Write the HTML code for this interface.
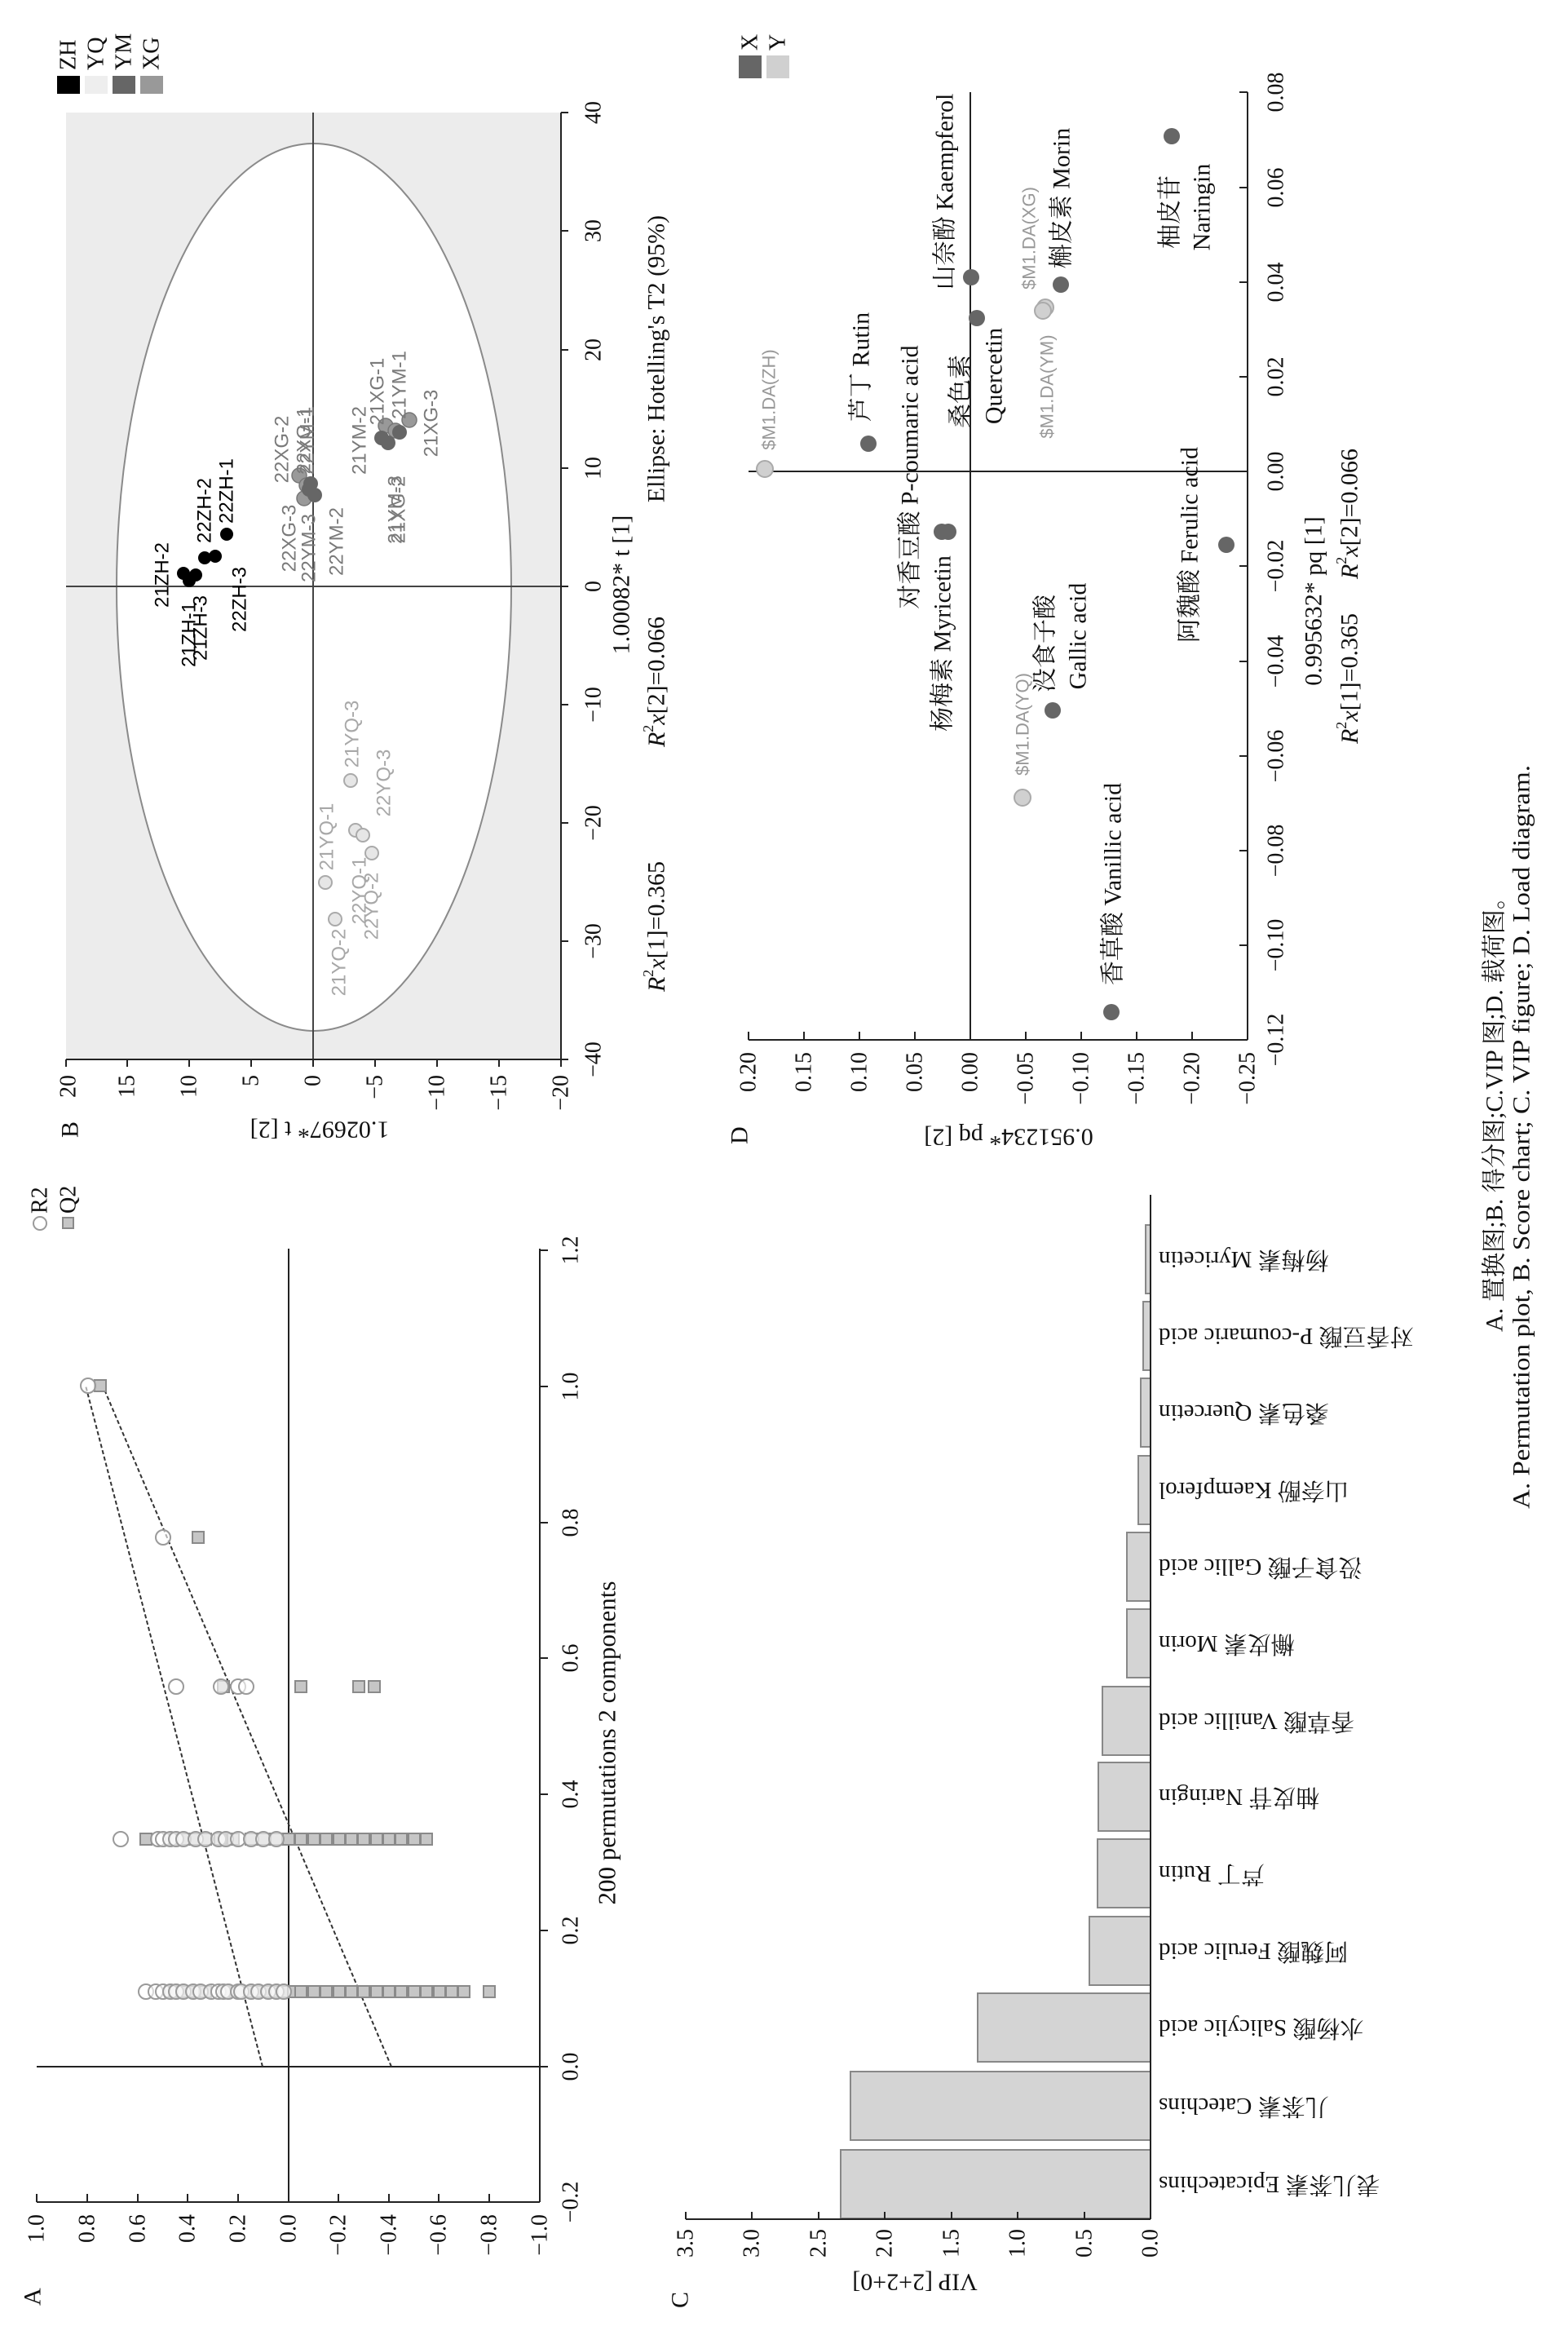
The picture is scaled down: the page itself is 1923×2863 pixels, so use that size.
<!DOCTYPE html>
<html><head><meta charset="utf-8"><style>
html,body{margin:0;padding:0;background:#fff;}
svg{display:block;}
.s{font-family:"Liberation Serif","Noto Serif CJK SC","Noto Sans CJK SC",serif;fill:#111;}
.ss{font-family:"Liberation Sans","Noto Sans CJK SC",sans-serif;}
</style></head><body>
<svg width="1923" height="2863" viewBox="0 0 1923 2863" xmlns="http://www.w3.org/2000/svg">
<rect width="1923" height="2863" fill="#fff"/>

<!-- ================= PANEL A ================= -->
<g stroke="#222" stroke-width="2" fill="none">
<line x1="45" y1="2700" x2="662" y2="2700"/>
<line x1="662" y1="1531" x2="662" y2="2700"/>
<line x1="354" y1="1531" x2="354" y2="2700"/>
<line x1="45" y1="2534" x2="662" y2="2534"/>
</g>
<g stroke="#222" stroke-width="2">
<line x1="45" y1="2690" x2="45" y2="2700"/><line x1="107" y1="2690" x2="107" y2="2700"/><line x1="169" y1="2690" x2="169" y2="2700"/><line x1="230" y1="2690" x2="230" y2="2700"/><line x1="292" y1="2690" x2="292" y2="2700"/><line x1="415" y1="2690" x2="415" y2="2700"/><line x1="477" y1="2690" x2="477" y2="2700"/><line x1="538" y1="2690" x2="538" y2="2700"/><line x1="600" y1="2690" x2="600" y2="2700"/>
<line x1="662" y1="1533" x2="672" y2="1533"/><line x1="662" y1="1700" x2="672" y2="1700"/><line x1="662" y1="1867" x2="672" y2="1867"/><line x1="662" y1="2033" x2="672" y2="2033"/><line x1="662" y1="2200" x2="672" y2="2200"/><line x1="662" y1="2367" x2="672" y2="2367"/><line x1="662" y1="2534" x2="672" y2="2534"/>
</g>
<g class="s" font-size="28" text-anchor="end" dominant-baseline="central">
<text transform="translate(45,2715) rotate(-90)">1.0</text>
<text transform="translate(107,2715) rotate(-90)">0.8</text>
<text transform="translate(169,2715) rotate(-90)">0.6</text>
<text transform="translate(230,2715) rotate(-90)">0.4</text>
<text transform="translate(292,2715) rotate(-90)">0.2</text>
<text transform="translate(354,2715) rotate(-90)">0.0</text>
<text transform="translate(415,2715) rotate(-90)">−0.2</text>
<text transform="translate(477,2715) rotate(-90)">−0.4</text>
<text transform="translate(538,2715) rotate(-90)">−0.6</text>
<text transform="translate(600,2715) rotate(-90)">−0.8</text>
<text transform="translate(662,2715) rotate(-90)">−1.0</text>
</g>
<g class="s" font-size="28" text-anchor="middle" dominant-baseline="central">
<text transform="translate(700,2700) rotate(-90)">−0.2</text>
<text transform="translate(700,2534) rotate(-90)">0.0</text>
<text transform="translate(700,2367) rotate(-90)">0.2</text>
<text transform="translate(700,2200) rotate(-90)">0.4</text>
<text transform="translate(700,2033) rotate(-90)">0.6</text>
<text transform="translate(700,1867) rotate(-90)">0.8</text>
<text transform="translate(700,1700) rotate(-90)">1.0</text>
<text transform="translate(700,1533) rotate(-90)">1.2</text>
<text transform="translate(744,2137) rotate(-90)" font-size="31">200 permutations 2 components</text>
</g>
<g stroke="#333" stroke-width="2" stroke-dasharray="5,3" fill="none">
<line x1="322" y1="2534" x2="105" y2="1699"/>
<line x1="480" y1="2534" x2="126" y2="1699"/>
</g>
<g fill="#c6c6c6" stroke="#8a8a8a" stroke-width="2">
<rect x="116" y="1692" width="14" height="14"/>
<rect x="236" y="1878" width="14" height="14"/>
<rect x="267" y="2061" width="14" height="14"/><rect x="362" y="2061" width="14" height="14"/><rect x="433" y="2061" width="14" height="14"/><rect x="452" y="2061" width="14" height="14"/>
<rect x="172" y="2248" width="14" height="14"/><rect x="202" y="2248" width="14" height="14"/><rect x="218" y="2248" width="14" height="14"/><rect x="233" y="2248" width="14" height="14"/><rect x="245" y="2248" width="14" height="14"/><rect x="263" y="2248" width="14" height="14"/><rect x="279" y="2248" width="14" height="14"/><rect x="301" y="2248" width="14" height="14"/><rect x="316" y="2248" width="14" height="14"/><rect x="332" y="2248" width="14" height="14"/><rect x="347" y="2248" width="14" height="14"/><rect x="362" y="2248" width="14" height="14"/><rect x="378" y="2248" width="14" height="14"/><rect x="393" y="2248" width="14" height="14"/><rect x="409" y="2248" width="14" height="14"/><rect x="424" y="2248" width="14" height="14"/><rect x="439" y="2248" width="14" height="14"/><rect x="455" y="2248" width="14" height="14"/><rect x="470" y="2248" width="14" height="14"/><rect x="485" y="2248" width="14" height="14"/><rect x="501" y="2248" width="14" height="14"/><rect x="516" y="2248" width="14" height="14"/>
<rect x="202" y="2435" width="14" height="14"/><rect x="218" y="2435" width="14" height="14"/><rect x="230" y="2435" width="14" height="14"/><rect x="245" y="2435" width="14" height="14"/><rect x="270" y="2435" width="14" height="14"/><rect x="285" y="2435" width="14" height="14"/><rect x="301" y="2435" width="14" height="14"/><rect x="310" y="2435" width="14" height="14"/><rect x="322" y="2435" width="14" height="14"/><rect x="332" y="2435" width="14" height="14"/><rect x="341" y="2435" width="14" height="14"/><rect x="353" y="2435" width="14" height="14"/><rect x="362" y="2435" width="14" height="14"/><rect x="378" y="2435" width="14" height="14"/><rect x="393" y="2435" width="14" height="14"/><rect x="409" y="2435" width="14" height="14"/><rect x="424" y="2435" width="14" height="14"/><rect x="439" y="2435" width="14" height="14"/><rect x="455" y="2435" width="14" height="14"/><rect x="470" y="2435" width="14" height="14"/><rect x="485" y="2435" width="14" height="14"/><rect x="501" y="2435" width="14" height="14"/><rect x="516" y="2435" width="14" height="14"/><rect x="532" y="2435" width="14" height="14"/><rect x="547" y="2435" width="14" height="14"/><rect x="562" y="2435" width="14" height="14"/><rect x="593" y="2435" width="14" height="14"/>
</g>
<g fill="#fff" fill-opacity="0.6" stroke="#9a9a9a" stroke-width="2">
<circle cx="108" cy="1699" r="9"/>
<circle cx="200" cy="1885" r="9"/>
<circle cx="216" cy="2068" r="9"/><circle cx="271" cy="2068" r="9"/><circle cx="292" cy="2068" r="9"/><circle cx="302" cy="2068" r="9"/>
<circle cx="148" cy="2255" r="9"/><circle cx="194" cy="2255" r="9"/><circle cx="200" cy="2255" r="9"/><circle cx="209" cy="2255" r="9"/><circle cx="216" cy="2255" r="9"/><circle cx="225" cy="2255" r="9"/><circle cx="240" cy="2255" r="9"/><circle cx="252" cy="2255" r="9"/><circle cx="268" cy="2255" r="9"/><circle cx="277" cy="2255" r="9"/><circle cx="292" cy="2255" r="9"/><circle cx="308" cy="2255" r="9"/><circle cx="323" cy="2255" r="9"/><circle cx="339" cy="2255" r="9"/>
<circle cx="179" cy="2442" r="9"/><circle cx="191" cy="2442" r="9"/><circle cx="200" cy="2442" r="9"/><circle cx="209" cy="2442" r="9"/><circle cx="216" cy="2442" r="9"/><circle cx="225" cy="2442" r="9"/><circle cx="237" cy="2442" r="9"/><circle cx="246" cy="2442" r="9"/><circle cx="259" cy="2442" r="9"/><circle cx="268" cy="2442" r="9"/><circle cx="274" cy="2442" r="9"/><circle cx="280" cy="2442" r="9"/><circle cx="292" cy="2442" r="9"/><circle cx="296" cy="2442" r="9"/><circle cx="308" cy="2442" r="9"/><circle cx="317" cy="2442" r="9"/><circle cx="329" cy="2442" r="9"/><circle cx="339" cy="2442" r="9"/><circle cx="348" cy="2442" r="9"/>
</g>
<circle cx="49" cy="1500" r="8" fill="#fff" stroke="#9a9a9a" stroke-width="2"/>
<rect x="77" y="1493" width="13" height="13" fill="#c6c6c6" stroke="#8a8a8a" stroke-width="2"/>
<g class="s" font-size="28" dominant-baseline="central">
<text transform="translate(49,1488) rotate(-90)">R2</text>
<text transform="translate(84,1488) rotate(-90)">Q2</text>
<text transform="translate(40,2827) rotate(-90)" font-size="30">A</text>
<text transform="translate(86,1395) rotate(-90)" font-size="30">B</text>
<text transform="translate(834,2830) rotate(-90)" font-size="30">C</text>
<text transform="translate(907,1403) rotate(-90)" font-size="30">D</text>
</g>

<!-- ================= PANEL B ================= -->
<rect x="81" y="138" width="607" height="1161" fill="#ececec"/>
<ellipse cx="385" cy="720" rx="242" ry="544" fill="#fff" stroke="#8a8a8a" stroke-width="2"/>
<g stroke="#444" stroke-width="2" fill="none">
<line x1="384" y1="138" x2="384" y2="1299"/>
<line x1="81" y1="719" x2="688" y2="719"/>
</g>
<g stroke="#222" stroke-width="2" fill="none">
<line x1="81" y1="1299" x2="688" y2="1299"/>
<line x1="688" y1="138" x2="688" y2="1299"/>
<line x1="81" y1="1299" x2="81" y2="1308"/><line x1="156" y1="1299" x2="156" y2="1308"/><line x1="232" y1="1299" x2="232" y2="1308"/><line x1="308" y1="1299" x2="308" y2="1308"/><line x1="384" y1="1299" x2="384" y2="1308"/><line x1="460" y1="1299" x2="460" y2="1308"/><line x1="536" y1="1299" x2="536" y2="1308"/><line x1="612" y1="1299" x2="612" y2="1308"/><line x1="688" y1="1299" x2="688" y2="1308"/>
<line x1="688" y1="138" x2="697" y2="138"/><line x1="688" y1="283" x2="697" y2="283"/><line x1="688" y1="429" x2="697" y2="429"/><line x1="688" y1="574" x2="697" y2="574"/><line x1="688" y1="719" x2="697" y2="719"/><line x1="688" y1="864" x2="697" y2="864"/><line x1="688" y1="1009" x2="697" y2="1009"/><line x1="688" y1="1154" x2="697" y2="1154"/><line x1="688" y1="1299" x2="697" y2="1299"/>
</g>
<g class="s" font-size="28" text-anchor="end" dominant-baseline="central">
<text transform="translate(84,1318) rotate(-90)">20</text>
<text transform="translate(156,1318) rotate(-90)">15</text>
<text transform="translate(232,1318) rotate(-90)">10</text>
<text transform="translate(308,1318) rotate(-90)">5</text>
<text transform="translate(384,1318) rotate(-90)">0</text>
<text transform="translate(460,1318) rotate(-90)">−5</text>
<text transform="translate(536,1318) rotate(-90)">−10</text>
<text transform="translate(612,1318) rotate(-90)">−15</text>
<text transform="translate(688,1318) rotate(-90)">−20</text>
</g>
<g class="s" font-size="28" text-anchor="middle" dominant-baseline="central">
<text transform="translate(728,138) rotate(-90)">40</text>
<text transform="translate(728,283) rotate(-90)">30</text>
<text transform="translate(728,429) rotate(-90)">20</text>
<text transform="translate(728,574) rotate(-90)">10</text>
<text transform="translate(728,719) rotate(-90)">0</text>
<text transform="translate(728,864) rotate(-90)">−10</text>
<text transform="translate(728,1009) rotate(-90)">−20</text>
<text transform="translate(728,1154) rotate(-90)">−30</text>
<text transform="translate(728,1299) rotate(-90)">−40</text>
<text transform="translate(762,717) rotate(-90)" font-size="30">1.00082* t [1]</text>
<text transform="translate(805,1136) rotate(-90)" font-size="30"><tspan font-style="italic">R</tspan><tspan font-size="18" dy="-10">2</tspan><tspan font-style="italic" dy="10">x</tspan>[1]=0.365</text>
<text transform="translate(805,836) rotate(-90)" font-size="30"><tspan font-style="italic">R</tspan><tspan font-size="18" dy="-10">2</tspan><tspan font-style="italic" dy="10">x</tspan>[2]=0.066</text>
<text transform="translate(805,440) rotate(-90)" font-size="30">Ellipse: Hotelling's T2 (95%)</text>
<text transform="translate(392,1385) rotate(180)" font-size="30">1.02697* t [2]</text>
</g>
<rect x="70" y="93" width="28" height="22" fill="#000"/>
<rect x="104" y="93" width="28" height="22" fill="#eeeeee"/>
<rect x="138" y="93" width="28" height="22" fill="#666"/>
<rect x="172" y="93" width="28" height="22" fill="#999"/>
<g class="s" font-size="28" dominant-baseline="central">
<text transform="translate(84,86) rotate(-90)">ZH</text>
<text transform="translate(118,86) rotate(-90)">YQ</text>
<text transform="translate(152,86) rotate(-90)">YM</text>
<text transform="translate(186,86) rotate(-90)">XG</text>
</g>
<g fill="#000">
<circle cx="225" cy="703" r="8"/><circle cx="232" cy="712" r="8"/><circle cx="240" cy="705" r="8"/><circle cx="251" cy="684" r="8"/><circle cx="264" cy="682" r="8"/><circle cx="278" cy="655" r="8"/>
</g>
<g fill="#e6e6e6" stroke="#aaa" stroke-width="2">
<circle cx="430" cy="957" r="8"/><circle cx="436" cy="1018" r="8"/><circle cx="445" cy="1024" r="8"/><circle cx="456" cy="1046" r="8"/><circle cx="399" cy="1082" r="8"/><circle cx="411" cy="1127" r="8"/>
</g>
<g fill="#999" stroke="#777" stroke-width="1.5">
<circle cx="367" cy="583" r="9"/><circle cx="376" cy="595" r="9"/><circle cx="373" cy="611" r="9"/>
<circle cx="473" cy="522" r="9"/><circle cx="485" cy="528" r="9"/><circle cx="502" cy="515" r="9"/>
</g>
<g fill="#666">
<circle cx="381" cy="593" r="9"/><circle cx="386" cy="607" r="9"/><circle cx="379" cy="600" r="9"/>
<circle cx="468" cy="537" r="9"/><circle cx="476" cy="543" r="9"/><circle cx="490" cy="530" r="9"/>
</g>
<g class="ss" font-size="24" text-anchor="middle" dominant-baseline="central" fill="#000">
<text transform="translate(199,705) rotate(-90)">21ZH-2</text>
<text transform="translate(232,778) rotate(-90)">21ZH-1</text>
<text transform="translate(246,770) rotate(-90)">21ZH-3</text>
<text transform="translate(251,626) rotate(-90)">22ZH-2</text>
<text transform="translate(278,602) rotate(-90)">22ZH-1</text>
<text transform="translate(294,735) rotate(-90)">22ZH-3</text>
</g>
<g class="ss" font-size="24" text-anchor="middle" dominant-baseline="central" fill="#a8a8a8">
<text transform="translate(432,900) rotate(-90)">21YQ-3</text>
<text transform="translate(471,960) rotate(-90)">22YQ-3</text>
<text transform="translate(401,1026) rotate(-90)">21YQ-1</text>
<text transform="translate(441,1092) rotate(-90)">22YQ-1</text>
<text transform="translate(456,1111) rotate(-90)">22YQ-2</text>
<text transform="translate(416,1180) rotate(-90)">21YQ-2</text>
</g>
<g class="ss" font-size="24" text-anchor="middle" dominant-baseline="central" fill="#7a7a7a">
<text transform="translate(346,551) rotate(-90)">22XG-2</text>
<text transform="translate(373,540) rotate(-90)">22XG-1</text>
<text transform="translate(377,540) rotate(-90)">22YM-1</text>
<text transform="translate(355,660) rotate(-90)">22XG-3</text>
<text transform="translate(379,672) rotate(-90)">22YM-3</text>
<text transform="translate(413,664) rotate(-90)">22YM-2</text>
<text transform="translate(441,540) rotate(-90)">21YM-2</text>
<text transform="translate(463,480) rotate(-90)">21XG-1</text>
<text transform="translate(490,472) rotate(-90)">21YM-1</text>
<text transform="translate(529,519) rotate(-90)">21XG-3</text>
<text transform="translate(485,625) rotate(-90)">21YM-3</text>
<text transform="translate(489,625) rotate(-90)">21XG-2</text>
</g>

<!-- ================= PANEL D ================= -->
<g stroke="#222" stroke-width="2" fill="none">
<line x1="918" y1="1275" x2="1530" y2="1275"/>
<line x1="1530" y1="113" x2="1530" y2="1275"/>
<line x1="1190" y1="113" x2="1190" y2="1275"/>
<line x1="918" y1="578" x2="1530" y2="578"/>
<line x1="918" y1="1265" x2="918" y2="1275"/><line x1="986" y1="1265" x2="986" y2="1275"/><line x1="1054" y1="1265" x2="1054" y2="1275"/><line x1="1122" y1="1265" x2="1122" y2="1275"/><line x1="1190" y1="1265" x2="1190" y2="1275"/><line x1="1258" y1="1265" x2="1258" y2="1275"/><line x1="1326" y1="1265" x2="1326" y2="1275"/><line x1="1394" y1="1265" x2="1394" y2="1275"/><line x1="1462" y1="1265" x2="1462" y2="1275"/><line x1="1530" y1="1265" x2="1530" y2="1275"/>
<line x1="1520" y1="113" x2="1530" y2="113"/><line x1="1520" y1="230" x2="1530" y2="230"/><line x1="1520" y1="346" x2="1530" y2="346"/><line x1="1520" y1="462" x2="1530" y2="462"/><line x1="1520" y1="578" x2="1530" y2="578"/><line x1="1520" y1="694" x2="1530" y2="694"/><line x1="1520" y1="811" x2="1530" y2="811"/><line x1="1520" y1="927" x2="1530" y2="927"/><line x1="1520" y1="1043" x2="1530" y2="1043"/><line x1="1520" y1="1159" x2="1530" y2="1159"/><line x1="1520" y1="1275" x2="1530" y2="1275"/>
</g>
<g class="s" font-size="28" text-anchor="end" dominant-baseline="central">
<text transform="translate(918,1290) rotate(-90)">0.20</text>
<text transform="translate(986,1290) rotate(-90)">0.15</text>
<text transform="translate(1054,1290) rotate(-90)">0.10</text>
<text transform="translate(1122,1290) rotate(-90)">0.05</text>
<text transform="translate(1190,1290) rotate(-90)">0.00</text>
<text transform="translate(1258,1290) rotate(-90)">−0.05</text>
<text transform="translate(1326,1290) rotate(-90)">−0.10</text>
<text transform="translate(1394,1290) rotate(-90)">−0.15</text>
<text transform="translate(1462,1290) rotate(-90)">−0.20</text>
<text transform="translate(1530,1290) rotate(-90)">−0.25</text>
</g>
<g class="s" font-size="28" text-anchor="middle" dominant-baseline="central">
<text transform="translate(1565,113) rotate(-90)">0.08</text>
<text transform="translate(1565,230) rotate(-90)">0.06</text>
<text transform="translate(1565,346) rotate(-90)">0.04</text>
<text transform="translate(1565,462) rotate(-90)">0.02</text>
<text transform="translate(1565,578) rotate(-90)">0.00</text>
<text transform="translate(1565,694) rotate(-90)">−0.02</text>
<text transform="translate(1565,811) rotate(-90)">−0.04</text>
<text transform="translate(1565,927) rotate(-90)">−0.06</text>
<text transform="translate(1565,1043) rotate(-90)">−0.08</text>
<text transform="translate(1565,1159) rotate(-90)">−0.10</text>
<text transform="translate(1565,1275) rotate(-90)">−0.12</text>
<text transform="translate(1611,737) rotate(-90)" font-size="30">0.995632* pq [1]</text>
<text transform="translate(1655,832) rotate(-90)" font-size="30"><tspan font-style="italic">R</tspan><tspan font-size="18" dy="-10">2</tspan><tspan font-style="italic" dy="10">x</tspan>[1]=0.365</text>
<text transform="translate(1655,630) rotate(-90)" font-size="30"><tspan font-style="italic">R</tspan><tspan font-size="18" dy="-10">2</tspan><tspan font-style="italic" dy="10">x</tspan>[2]=0.066</text>
<text transform="translate(1237,1394) rotate(180)" font-size="30">0.951234* pq [2]</text>
</g>
<rect x="906" y="68" width="28" height="28" fill="#666"/>
<rect x="940" y="68" width="28" height="28" fill="#d0d0d0"/>
<g class="s" font-size="28" dominant-baseline="central">
<text transform="translate(920,62) rotate(-90)">X</text>
<text transform="translate(954,62) rotate(-90)">Y</text>
</g>
<g fill="#d0d0d0" stroke="#aaa" stroke-width="2">
<circle cx="938" cy="575" r="10"/>
<circle cx="1282" cy="377" r="10"/>
<circle cx="1279" cy="381" r="10"/>
<circle cx="1254" cy="978" r="10"/>
</g>
<g fill="#666">
<circle cx="1065" cy="544" r="10"/>
<circle cx="1155" cy="652" r="10"/><circle cx="1163" cy="652" r="10"/>
<circle cx="1191" cy="340" r="10"/>
<circle cx="1198" cy="390" r="10"/>
<circle cx="1301" cy="349" r="10"/>
<circle cx="1437" cy="167" r="10"/>
<circle cx="1504" cy="668" r="10"/>
<circle cx="1291" cy="871" r="10"/>
<circle cx="1363" cy="1241" r="10"/>
</g>
<g class="ss" font-size="22" text-anchor="middle" dominant-baseline="central" fill="#999">
<text transform="translate(943,490) rotate(-90)">$M1.DA(ZH)</text>
<text transform="translate(1262,292) rotate(-90)">$M1.DA(XG)</text>
<text transform="translate(1284,474) rotate(-90)">$M1.DA(YM)</text>
<text transform="translate(1254,888) rotate(-90)">$M1.DA(YQ)</text>
</g>
<g class="s" font-size="30" text-anchor="middle" dominant-baseline="central">
<text transform="translate(1056,450) rotate(-90)">芦丁 Rutin</text>
<text transform="translate(1116,585) rotate(-90)">对香豆酸 P-coumaric acid</text>
<text transform="translate(1156,789) rotate(-90)">杨梅素 Myricetin</text>
<text transform="translate(1159,235) rotate(-90)">山奈酚 Kaempferol</text>
<text transform="translate(1178,480) rotate(-90)">桑色素</text>
<text transform="translate(1219,461) rotate(-90)">Quercetin</text>
<text transform="translate(1302,243) rotate(-90)">槲皮素 Morin</text>
<text transform="translate(1435,260) rotate(-90)">柚皮苷</text>
<text transform="translate(1474,254) rotate(-90)">Naringin</text>
<text transform="translate(1459,668) rotate(-90)">阿魏酸 Ferulic acid</text>
<text transform="translate(1282,789) rotate(-90)">没食子酸</text>
<text transform="translate(1322,780) rotate(-90)">Gallic acid</text>
<text transform="translate(1365,1084) rotate(-90)">香草酸 Vanillic acid</text>
</g>

<!-- ================= PANEL C ================= -->
<g fill="#d4d4d4" stroke="#888" stroke-width="2">
<rect x="1031" y="2636" width="380" height="84"/>
<rect x="1043" y="2540" width="368" height="84"/>
<rect x="1199" y="2444" width="212" height="84"/>
<rect x="1336" y="2350" width="75" height="84"/>
<rect x="1346" y="2255" width="65" height="84"/>
<rect x="1347" y="2161" width="64" height="84"/>
<rect x="1352" y="2068" width="59" height="84"/>
<rect x="1382" y="1973" width="29" height="84"/>
<rect x="1382" y="1879" width="29" height="84"/>
<rect x="1396" y="1785" width="15" height="84"/>
<rect x="1399" y="1690" width="12" height="84"/>
<rect x="1402" y="1596" width="9" height="84"/>
<rect x="1405" y="1502" width="6" height="84"/>
</g>
<g stroke="#222" stroke-width="2" fill="none">
<line x1="841" y1="2721" x2="1411" y2="2721"/>
<line x1="1411" y1="1465" x2="1411" y2="2721"/>
<line x1="841" y1="2712" x2="841" y2="2721"/><line x1="922" y1="2712" x2="922" y2="2721"/><line x1="1004" y1="2712" x2="1004" y2="2721"/><line x1="1085" y1="2712" x2="1085" y2="2721"/><line x1="1167" y1="2712" x2="1167" y2="2721"/><line x1="1248" y1="2712" x2="1248" y2="2721"/><line x1="1330" y1="2712" x2="1330" y2="2721"/>
</g>
<g class="s" font-size="28" text-anchor="end" dominant-baseline="central">
<text transform="translate(841,2733) rotate(-90)">3.5</text>
<text transform="translate(922,2733) rotate(-90)">3.0</text>
<text transform="translate(1004,2733) rotate(-90)">2.5</text>
<text transform="translate(1085,2733) rotate(-90)">2.0</text>
<text transform="translate(1167,2733) rotate(-90)">1.5</text>
<text transform="translate(1248,2733) rotate(-90)">1.0</text>
<text transform="translate(1330,2733) rotate(-90)">0.5</text>
<text transform="translate(1411,2733) rotate(-90)">0.0</text>
</g>
<text class="s" font-size="30" text-anchor="middle" dominant-baseline="central" transform="translate(1122,2798) rotate(180)">VIP [2+2+0]</text>
<g class="s" font-size="29" text-anchor="end" dominant-baseline="central">
<text transform="translate(1421,2678) rotate(180)">表儿茶素 Epicatechins</text>
<text transform="translate(1421,2582) rotate(180)">儿茶素 Catechins</text>
<text transform="translate(1421,2486) rotate(180)">水杨酸 Salicylic acid</text>
<text transform="translate(1421,2392) rotate(180)">阿魏酸 Ferulic acid</text>
<text transform="translate(1421,2297) rotate(180)">芦丁 Rutin</text>
<text transform="translate(1421,2203) rotate(180)">柚皮苷 Naringin</text>
<text transform="translate(1421,2110) rotate(180)">香草酸 Vanillic acid</text>
<text transform="translate(1421,2015) rotate(180)">槲皮素 Morin</text>
<text transform="translate(1421,1921) rotate(180)">没食子酸 Gallic acid</text>
<text transform="translate(1421,1827) rotate(180)">山奈酚 Kaempferol</text>
<text transform="translate(1421,1732) rotate(180)">桑色素 Quercetin</text>
<text transform="translate(1421,1638) rotate(180)">对香豆酸 P-coumaric acid</text>
<text transform="translate(1421,1544) rotate(180)">杨梅素 Myricetin</text>
</g>

<!-- caption -->
<g class="s" font-size="30" text-anchor="middle" dominant-baseline="central">
<text transform="translate(1833,1359) rotate(-90)" textLength="548" lengthAdjust="spacingAndGlyphs">A. 置换图;B. 得分图;C.VIP 图;D. 载荷图。</text>
<text transform="translate(1866,1394) rotate(-90)" textLength="912" lengthAdjust="spacingAndGlyphs">A. Permutation plot, B. Score chart; C. VIP figure; D. Load diagram.</text>
</g>
</svg>
</body></html>
